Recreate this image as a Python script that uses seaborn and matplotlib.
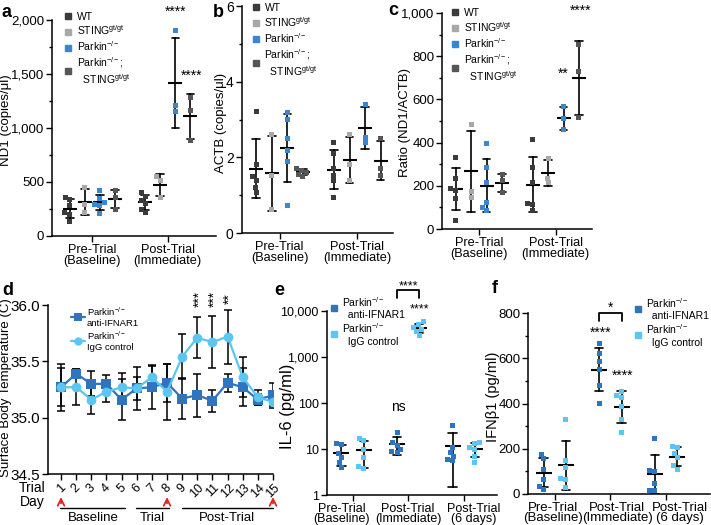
import numpy as np
import pandas as pd
import matplotlib
matplotlib.use("Agg")
import matplotlib.pyplot as plt
from matplotlib.lines import Line2D
from matplotlib.ticker import FuncFormatter, MultipleLocator, FixedLocator, NullLocator
from matplotlib.transforms import ScaledTranslation
import seaborn as sns

# ---------------- data ----------------
times2 = ["Pre-Trial\n(Baseline)", "Post-Trial\n(Immediate)"]
times3 = ["Pre-Trial\n(Baseline)", "Post-Trial\n(Immediate)", "Post-Trial\n(6 days)"]

genotypes = ["WT", "STING$^{gt/gt}$", "Parkin$^{-/-}$", "Parkin$^{-/-}$;\n  STING$^{gt/gt}$"]
geno_colors = ["#3b3b3b", "#a8a8a8", "#3a86d1", "#565656"]

# a: ND1 (copies/ul), one list per genotype (WT, STING, Parkin, Parkin;STING)
nd1_pre = [[355, 335, 280, 215, 200, 130], [450, 290, 215],
           [425, 350, 310, 295, 285, 210], [420, 355, 250]]
nd1_post = [[400, 370, 330, 300, 250, 220], [550, 515, 360],
            [1900, 1210, 1150], [1280, 1160, 880]]

# b: ACTB (copies/ul)
actb_pre = [[3.2, 1.8, 1.5, 1.4, 1.2, 1.07], [2.6, 1.52, 0.61],
            [3.19, 3.0, 2.5, 2.19, 1.9, 0.72], [1.7, 1.65, 1.6, 1.55, 1.5]]
actb_post = [[2.39, 2.11, 1.71, 1.52, 1.39, 0.93], [2.6, 1.81, 1.4],
             [3.4, 2.53, 2.39], [2.5, 1.71, 1.52]]

# c: ratio ND1/ACTB
ratio_pre = [[332, 236, 186, 178, 141, 40], [483, 175, 144],
             [396, 284, 213, 123, 100, 85], [251, 224, 168]]
ratio_post = [[415, 285, 215, 120, 112, 84], [325, 236, 213],
              [565, 512, 460], [855, 728, 516]]

# d: surface body temperature, mean and SD per trial day
days = list(range(1, 16))
temp_anti = [35.27, 35.39, 35.30, 35.30, 35.16, 35.26, 35.27, 35.31, 35.17, 35.20, 35.15, 35.31, 35.27, 35.16, 35.20]
temp_anti_sd = [0.17, 0.04, 0.11, 0.08, 0.18, 0.19, 0.19, 0.17, 0.18, 0.19, 0.10, 0.08, 0.17, 0.05, 0.11]
temp_igg = [35.27, 35.27, 35.16, 35.23, 35.27, 35.26, 35.36, 35.23, 35.54, 35.71, 35.67, 35.72, 35.36, 35.18, 35.14]
temp_igg_sd = [0.21, 0.16, 0.13, 0.09, 0.13, 0.10, 0.11, 0.25, 0.20, 0.18, 0.23, 0.24, 0.18, 0.07, 0.04]
day_stars = ["***", "***", "**"]
star_days = [10, 11, 12]

treatments = ["Parkin$^{-/-}$\n  anti-IFNAR1", "Parkin$^{-/-}$\n  IgG control"]
treatments_d = ["Parkin$^{-/-}$\nanti-IFNAR1", "Parkin$^{-/-}$\nIgG control"]
treat_colors = ["#2f74bf", "#5cc6f2"]

# e: IL-6 (pg/ml), per timepoint (pre, immediate, 6 days)
il6_anti = [[13, 12.5, 8, 6.5, 5, 4], [23, 14, 12, 10, 9, 8.5], [32, 11, 8.5, 7, 6, 5.5]]
il6_igg = [[17, 15, 10, 6.5, 4.2, 3.8], [5800, 5000, 4400, 4000, 3600, 2900], [14, 13, 11, 10, 7, 5]]

# f: IFNb1 (pg/ml)
ifn_anti = [[175, 155, 110, 65, 35, 20], [665, 620, 585, 550, 480, 400], [245, 105, 100, 45, 15, 15]]
ifn_igg = [[330, 150, 115, 70, 65, 30], [455, 435, 425, 385, 330, 270], [210, 205, 180, 160, 125, 110]]

# ---------------- style ----------------
sns.set_theme(style="ticks")
plt.rcParams["font.family"] = ["Liberation Sans", "DejaVu Sans"]
plt.rcParams["mathtext.fontset"] = "custom"
plt.rcParams["mathtext.rm"] = "Liberation Sans"
plt.rcParams["mathtext.it"] = "Liberation Sans:italic"
plt.rcParams["mathtext.bf"] = "Liberation Sans:bold"
plt.rcParams["mathtext.default"] = "regular"
plt.rcParams["axes.edgecolor"] = "black"
plt.rcParams["xtick.color"] = "black"
plt.rcParams["ytick.color"] = "black"
plt.rcParams["text.color"] = "black"
plt.rcParams["axes.labelcolor"] = "black"

W, H = 711, 525
fig = plt.figure(figsize=(W / 100, H / 100), dpi=100)


def add_ax(left, top, right, bottom):
    return fig.add_axes([left / W, 1 - bottom / H, (right - left) / W, (bottom - top) / H])


comma = FuncFormatter(lambda v, p: f"{v:,.0f}")


def long_table(times, groups, table):
    rows = []
    for t, per_group in zip(times, table):
        for g, vals in zip(groups, per_group):
            rows += [(t, g, v) for v in vals]
    return pd.DataFrame(rows, columns=["time", "group", "value"])


def dot_panel(ax, df, times, groups, colors, dodge, pt, mean_size, cap):
    sns.swarmplot(data=df, x="time", y="value", hue="group", order=times, hue_order=groups,
                  palette=colors, dodge=True, marker="s", size=pt, linewidth=0,
                  legend=False, ax=ax)
    sns.pointplot(data=df, x="time", y="value", hue="group", order=times, hue_order=groups,
                  palette=["black"] * len(groups), errorbar="sd", dodge=dodge,
                  linestyle="none", marker="_", markersize=mean_size, markeredgewidth=1.5,
                  capsize=cap, err_kws={"linewidth": 1.2}, legend=False, ax=ax)


def style(ax, ylabel, ytick_fs, xtick_fs, ylabel_fs, label_xy, spacing=0.88):
    sns.despine(ax=ax)
    ax.set_xlabel("")
    ax.set_ylabel(ylabel, fontsize=ylabel_fs)
    ax.yaxis.set_label_coords(*label_xy)
    ax.yaxis.label.set_verticalalignment("center")
    ax.tick_params(which="major", length=4, width=1, pad=2)
    ax.tick_params(axis="x", which="major", pad=1.5)
    ax.tick_params(which="minor", length=2.5, width=1)
    ax.tick_params(axis="y", labelsize=ytick_fs)
    ax.tick_params(axis="x", labelsize=xtick_fs)
    for lab in ax.get_xticklabels():
        lab.set_linespacing(spacing)
    for s in ax.spines.values():
        s.set_linewidth(1.1)


def shift_xlabels(ax, offsets_px):
    for lab, dx in zip(ax.get_xticklabels(), offsets_px):
        lab.set_transform(lab.get_transform() + ScaledTranslation(dx / 100, 0, fig.dpi_scale_trans))


def square_legend(ax, labels, colors, anchor, fs, spacing):
    handles = [Line2D([], [], marker="s", linestyle="none", color=c, markersize=4.5) for c in colors]
    ax.legend(handles, labels, loc="upper left", bbox_to_anchor=anchor, frameon=False,
              fontsize=fs, handlelength=0.6, handletextpad=0.5, labelspacing=spacing,
              borderaxespad=0, borderpad=0)


def stars(ax, x, y, s, fs=10, **kw):
    ax.text(x, y, s, ha="center", va="baseline", fontsize=fs, clip_on=False, **kw)


# ---------------- panel a ----------------
ax_a = add_ax(52, 20, 216, 236)
dot_panel(ax_a, long_table(times2, genotypes, [nd1_pre, nd1_post]), times2, genotypes,
          geno_colors, 0.6, 3.6, 10, 0.1)
ax_a.set_ylim(0, 2000)
ax_a.set_xlim(-0.536, 1.64)
ax_a.yaxis.set_major_locator(MultipleLocator(500))
ax_a.yaxis.set_minor_locator(MultipleLocator(250))
ax_a.yaxis.set_major_formatter(comma)
style(ax_a, "ND1 (copies/μl)", 9.5, 9.2, 9.5, (-0.278, 0.537))
ax_a.tick_params(axis="y", pad=1.5)
square_legend(ax_a, genotypes, geno_colors, (0.08, 1.039), 7.5, 0.2)
stars(ax_a, 1.1, 2037, "****")
stars(ax_a, 1.32, 1444, "****")

# ---------------- panel b ----------------
ax_b = add_ax(242, 6, 393, 233)
dot_panel(ax_b, long_table(times2, genotypes, [actb_pre, actb_post]), times2, genotypes,
          geno_colors, 0.6, 3.6, 10, 0.1)
ax_b.set_ylim(0, 6)
ax_b.set_xlim(-0.485, 1.46)
ax_b.yaxis.set_major_locator(MultipleLocator(2))
ax_b.yaxis.set_minor_locator(MultipleLocator(1))
style(ax_b, "ACTB (copies/μl)", 10, 9.2, 9.5, (-0.14, 0.485))
square_legend(ax_b, genotypes, geno_colors, (0.073, 1.013), 7.5, 0.2)

# ---------------- panel c ----------------
ax_c = add_ax(442, 13, 592, 229)
dot_panel(ax_c, long_table(times2, genotypes, [ratio_pre, ratio_post]), times2, genotypes,
          geno_colors, 0.6, 3.6, 10, 0.1)
ax_c.set_ylim(0, 1000)
ax_c.set_xlim(-0.48, 1.47)
ax_c.yaxis.set_major_locator(MultipleLocator(200))
ax_c.yaxis.set_minor_locator(MultipleLocator(100))
ax_c.yaxis.set_major_formatter(comma)
style(ax_c, "Ratio (ND1/ACTB)", 9.5, 9.2, 9.5, (-0.245, 0.495))
ax_c.tick_params(axis="y", pad=1.5)
square_legend(ax_c, genotypes, geno_colors, (0.067, 1.023), 7.5, 0.2)
stars(ax_c, 1.1, 700, "**")
stars(ax_c, 1.32, 992, "****")

# ---------------- panel d ----------------
ax_d = add_ax(48, 305, 273, 474)
df_d = pd.DataFrame({"day": days * 2, "temp": temp_anti + temp_igg,
                     "group": [treatments_d[0]] * len(days) + [treatments_d[1]] * len(days)})
for means, sds in [(temp_anti, temp_anti_sd), (temp_igg, temp_igg_sd)]:
    ax_d.errorbar(days, means, yerr=sds, fmt="none", ecolor="black", elinewidth=1.1,
                  capsize=3, capthick=1.1, zorder=2)
sns.lineplot(data=df_d, x="day", y="temp", hue="group", style="group", markers=["s", "o"],
             dashes=False, palette=treat_colors, markersize=7, linewidth=1.6,
             markeredgewidth=0, errorbar=None, legend=False, ax=ax_d, zorder=3)
ax_d.set_ylim(34.5, 36.0)
ax_d.set_xlim(0.14, 15.0)
ax_d.yaxis.set_major_locator(MultipleLocator(0.5))
ax_d.yaxis.set_major_formatter(FuncFormatter(lambda v, p: f"{v:.1f}"))
ax_d.set_xticks(days)
ax_d.set_xticklabels([str(d) for d in days], rotation=45, ha="center")
style(ax_d, "Surface Body Temperature (C)", 11, 9, 9.5, (-0.185, 0.51))
for d, s in zip(star_days, day_stars):
    ax_d.text(d + 0.15, 36.058, s, rotation=90, ha="center", va="center", fontsize=10, clip_on=False)
d_handles = [Line2D([], [], color=c, marker=m, markersize=6, linewidth=1.6, markeredgewidth=0)
             for c, m in zip(treat_colors, ["s", "o"])]
ax_d.legend(d_handles, treatments_d, loc="upper left", bbox_to_anchor=(0.1, 1.0), frameon=False,
            fontsize=6.8, handlelength=1.5, handletextpad=0.2, labelspacing=0.15,
            borderaxespad=0, borderpad=0)
xt = ax_d.get_xaxis_transform()
ax_d.text(-0.013, -0.04, "Trial\nDay", transform=ax_d.transAxes, ha="right", va="top",
          fontsize=10, linespacing=1.05)
for d in [1, 8, 15]:
    ax_d.annotate("", xy=(d, -0.12), xytext=(d, -0.19), xycoords=xt, textcoords=xt,
                  arrowprops=dict(arrowstyle="->", color="#e8211f", lw=1.3), annotation_clip=False)
for (x0, x1), name, xc in [((0.93, 5.23), "Baseline", 3.1), ((5.95, 8.13), "Trial", 7.0),
                           ((9.0, 15.0), "Post-Trial", 11.95)]:
    ax_d.plot([x0, x1], [-0.2, -0.2], transform=xt, color="black", lw=1, clip_on=False)
    ax_d.text(xc, -0.225, name, transform=xt, ha="center", va="top", fontsize=9.5)

# ---------------- panel e ----------------
ax_e = add_ax(327, 311, 497, 495)
dot_panel(ax_e, long_table(times3, treatments, [list(p) for p in zip(il6_anti, il6_igg)]),
          times3, treatments, treat_colors, 0.4, 3.6, 12, 0.15)
ax_e.set_yscale("log")
ax_e.set_ylim(1, 10000)
ax_e.set_xlim(-0.46, 2.6)
ax_e.yaxis.set_major_locator(FixedLocator([1, 10, 100, 1000, 10000]))
ax_e.yaxis.set_minor_locator(NullLocator())
ax_e.yaxis.set_major_formatter(comma)
style(ax_e, "IL-6 (pg/ml)", 9, 9, 12, (-0.235, 0.48), spacing=0.85)
square_legend(ax_e, treatments, treat_colors, (0.02, 1.087), 7.5, 0.1)
ax_e.plot([0.8, 0.8, 1.2, 1.2], [19000, 28800, 28800, 19000], color="black", lw=1.3, clip_on=False)
stars(ax_e, 1.0, 29200, "****", fs=9)
stars(ax_e, 1.21, 9500, "****", fs=9)
ax_e.text(0.83, 82, "ns", ha="center", va="center", fontsize=10)
shift_xlabels(ax_e, [-11, 0, 10])

# ---------------- panel f ----------------
ax_f = add_ax(528, 313, 710, 494)
dot_panel(ax_f, long_table(times3, treatments, [list(p) for p in zip(ifn_anti, ifn_igg)]),
          times3, treatments, treat_colors, 0.4, 3.6, 12, 0.15)
ax_f.set_ylim(0, 800)
ax_f.set_xlim(-0.48, 2.79)
ax_f.yaxis.set_major_locator(MultipleLocator(200))
ax_f.yaxis.set_minor_locator(MultipleLocator(100))
style(ax_f, "IFNβ1 (pg/ml)", 9.5, 9.5, 10.5, (-0.19, 0.536), spacing=0.82)
ax_f.tick_params(axis="y", pad=1.5)
square_legend(ax_f, treatments, treat_colors, (0.588, 1.094), 7.5, 0.1)
ax_f.plot([0.8, 0.8, 1.2, 1.2], [766, 802, 802, 766], color="black", lw=1.3, clip_on=False)
stars(ax_f, 1.0, 806, "*")
stars(ax_f, 0.83, 696, "****")
stars(ax_f, 1.22, 505, "****")
shift_xlabels(ax_f, [-2, 7, 14])

# ---------------- panel letters ----------------
for letter, x, y in [("a", 1, 17), ("b", 213, 17), ("c", 388, 15),
                     ("d", 2, 295), ("e", 274, 295), ("f", 492, 293)]:
    fig.text(x / W, 1 - y / H, letter, fontsize=13, fontweight="bold", va="baseline")

fig.savefig("out.png", dpi=100)
